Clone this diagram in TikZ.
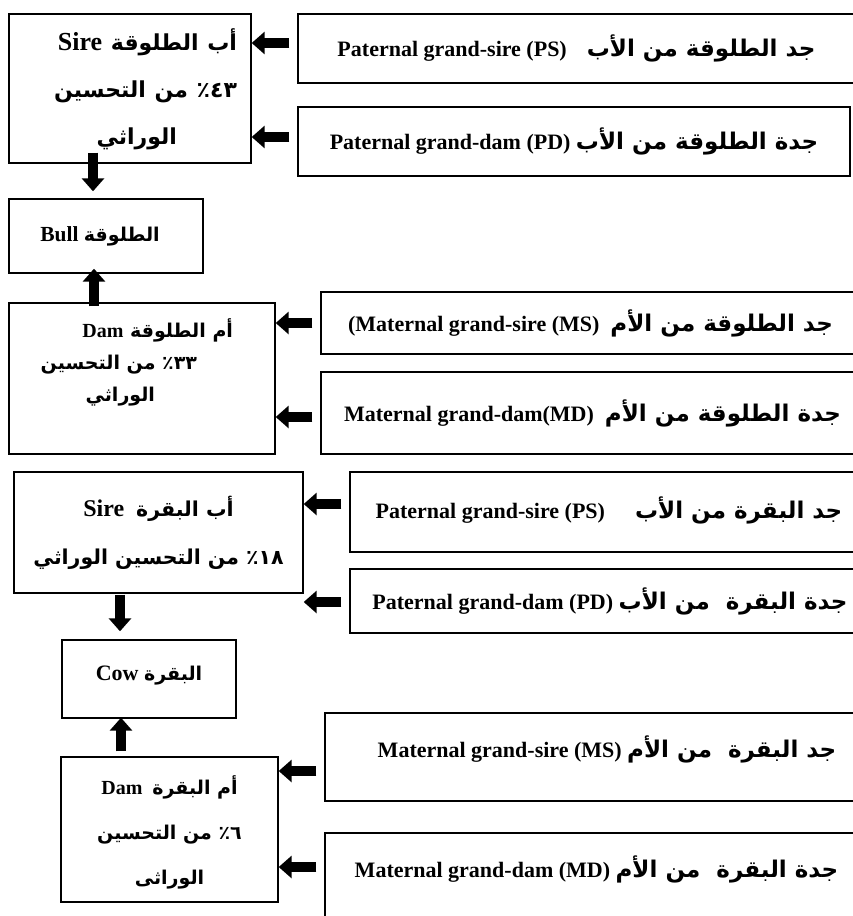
\documentclass[tikz,border=0pt]{standalone}
\usepackage{fontspec}
\setmainfont{Liberation Serif}
\newfontfamily\arabicfont[Script=Arabic]{DejaVu Sans}
\TeXXeTstate=1
\usetikzlibrary{arrows.meta}
\newcommand{\arb}[2][23]{{\fontsize{#1}{#1}\selectfont\arabicfont\beginR #2\endR}}
\begin{document}
\begin{tikzpicture}[x=1pt, y=-1pt,
    box/.style={draw, line width=1.4pt, inner sep=0pt, font=\bfseries\fontsize{22}{24}\selectfont},
    blk/.style={line width=9.5pt, -{Triangle[length=13pt,width=22pt]}}]
        \useasboundingbox (0,0) rectangle (853,916);
        \clip (0,0) rectangle (853,916);
        \node[box, minimum width=242pt, minimum height=149pt, text width=214pt, align=right, font=\bfseries\fontsize{26}{47}\selectfont] (sb) at (130,88.5) {\rule{0pt}{24pt}Sire \arb[22]{أب الطلوقة}\\ \arb[22]{٤٣\hspace{0pt}٪ من التحسين}\\ \arb[22]{الوراثي}\hspace{60pt}\mbox{}};
        \node[box, minimum width=194pt, minimum height=74pt, font=\bfseries\fontsize{21.5}{24}\selectfont] (bull) at (106,236) {Bull \arb[19]{الطلوقة}\hspace{12pt}\mbox{}};
        \node[box, minimum width=266pt, minimum height=151pt, text width=238pt, align=right, font=\bfseries\fontsize{20}{32}\selectfont] (dbull) at (142,378.5) {Dam \arb[19]{أم الطلوقة}\hspace{28pt}\mbox{}\\ \arb[19]{٣٣\hspace{0pt}٪ من التحسين}\hspace{64pt}\mbox{}\\ \arb[19]{الوراثي}\hspace{106pt}\mbox{}\rule[-36pt]{0pt}{36pt}};
        \node[box, minimum width=289pt, minimum height=121pt, align=center, font=\bfseries\fontsize{24}{48}\selectfont] (sc) at (158.5,532.5) {Sire\ \ \arb[20.5]{أب البقرة}\\ \arb[20.5]{١٨\hspace{0pt}٪ من التحسين الوراثي}};
        \node[box, minimum width=174pt, minimum height=78pt, font=\bfseries\fontsize{22}{24}\selectfont] (cow) at (149,679) {Cow \arb[19]{البقرة}\rule[-12pt]{0pt}{12pt}};
        \node[box, minimum width=217pt, minimum height=145pt, align=center, font=\bfseries\fontsize{20}{45}\selectfont] (dc) at (169.5,829.5) {\rule{0pt}{24pt}Dam\ \ \arb[19]{أم البقرة}\\ \arb[19]{٦\hspace{0pt}٪ من التحسين}\\ \arb[19]{الوراثى}};
        \node[box, minimum width=562pt, minimum height=69pt] (pgsb) at (579,48.5) {Paternal grand-sire (PS)\hspace{20pt}\arb{جد الطلوقة من الأب}\hspace{5pt}\mbox{}};
        \node[box, minimum width=552pt, minimum height=69pt] (pgdb) at (574,141.5) {Paternal grand-dam (PD) \arb{جدة الطلوقة من الأب}};
        \node[box, minimum width=539pt, minimum height=62pt] (mgsb) at (590.5,323) {(Maternal grand-sire (MS)\ \ \arb{جد الطلوقة من الأم}};
        \node[box, minimum width=539pt, minimum height=82pt] (mgdb) at (590.5,413) {\hspace{4pt}Maternal grand-dam(MD)\ \ \arb{جدة الطلوقة من الأم}};
        \node[box, minimum width=510pt, minimum height=80pt] (pgsc) at (605,512) {\hspace{8pt}Paternal grand-sire (PS)\hspace{30pt}\arb{جد البقرة من الأب}\rule[-8pt]{0pt}{8pt}};
        \node[box, minimum width=510pt, minimum height=64pt] (pgdc) at (605,601) {\hspace{10pt}Paternal grand-dam (PD) \arb{جدة البقرة\ \ من الأب}};
        \node[box, minimum width=535pt, minimum height=88pt] (mgsc) at (592.5,757) {\hspace{29pt}Maternal grand-sire (MS) \arb{جد البقرة\ \ من الأم}\rule[-20pt]{0pt}{20pt}};
        \node[box, minimum width=535pt, minimum height=88pt] (mgdc) at (592.5,877) {\hspace{8pt}Maternal grand-dam (MD) \arb{جدة البقرة\ \ من الأم}\rule[-20pt]{0pt}{20pt}};
        \draw[blk] ([xshift=-8pt,yshift=5.5pt]pgsb.west) -- ([yshift=45.5pt]sb.east);
        \draw[blk] ([xshift=-8pt,yshift=4.5pt]pgdb.west) -- ([yshift=-48.5pt]sb.east);
        \draw[blk] ([xshift=-8pt]mgsb.west) -- ([yshift=55.5pt]dbull.east);
        \draw[blk] ([xshift=-8pt,yshift=-4pt]mgdb.west) -- ([yshift=-38.5pt]dbull.east);
        \draw[blk] ([xshift=-8pt,yshift=8pt]pgsc.west) -- ([yshift=28.5pt]sc.east);
        \draw[blk] ([xshift=-8pt,yshift=-1pt]pgdc.west) -- ([yshift=-69.5pt]sc.east);
        \draw[blk] ([xshift=-8pt,yshift=-14pt]mgsc.west) -- ([yshift=58.5pt]dc.east);
        \draw[blk] ([xshift=-8pt,yshift=10pt]mgdc.west) -- ([yshift=-37.5pt]dc.east);
        \draw[blk] ([xshift=-37pt,yshift=11pt]sb.south) -- ([xshift=-13pt,yshift=7pt]bull.north);
        \draw[blk] ([xshift=-48pt,yshift=-4pt]dbull.north) -- ([xshift=-12pt,yshift=5pt]bull.south);
        \draw[blk] ([xshift=-38.5pt,yshift=-1pt]sc.south) -- ([xshift=-29pt,yshift=8pt]cow.north);
        \draw[blk] ([xshift=-48.5pt,yshift=5pt]dc.north) -- ([xshift=-28pt,yshift=1pt]cow.south);
\end{tikzpicture}
\end{document}
